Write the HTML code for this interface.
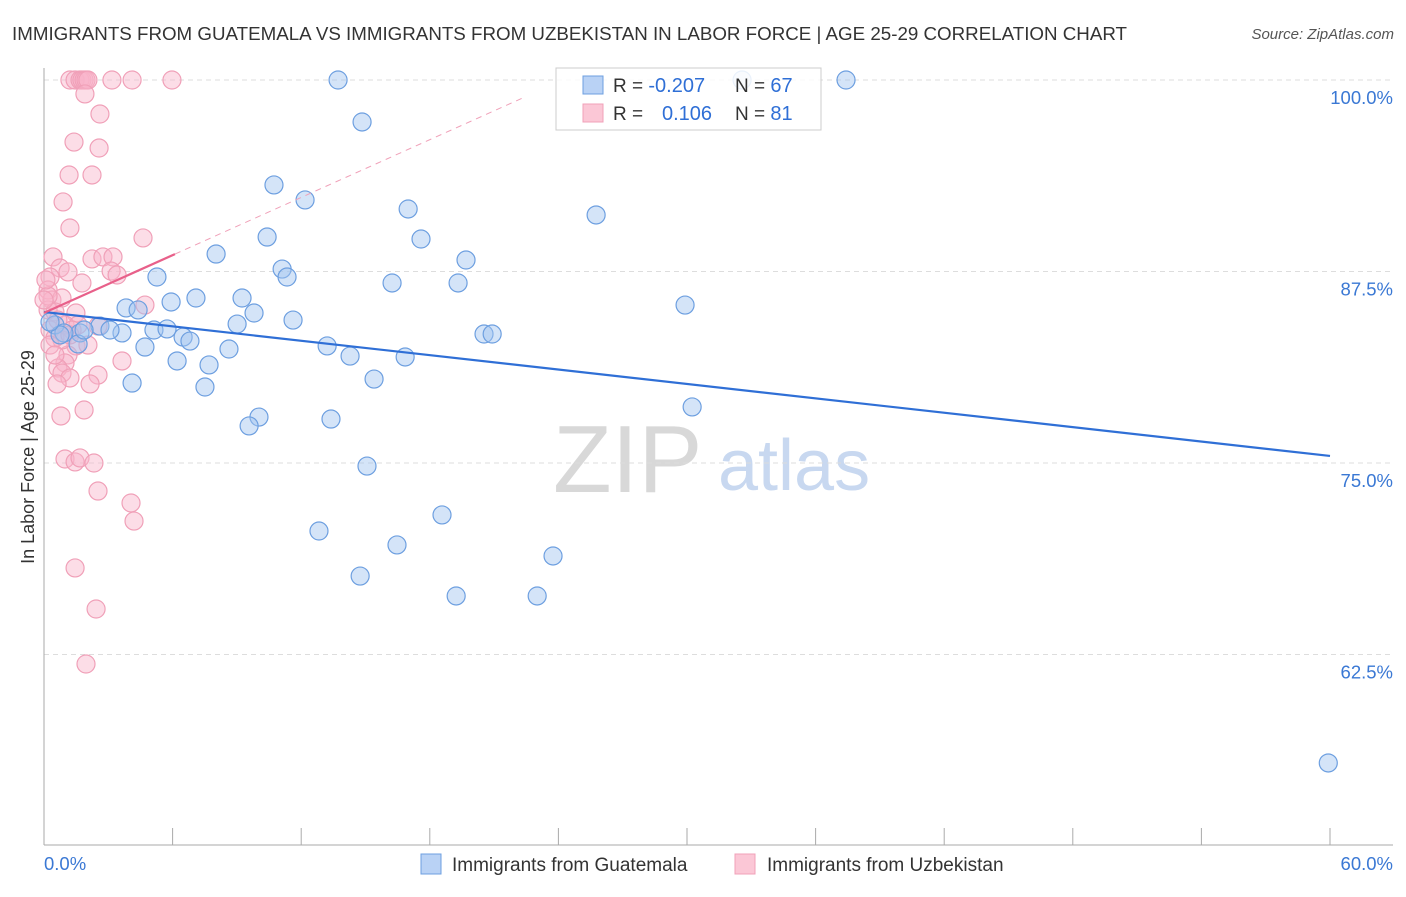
<!DOCTYPE html>
<html><head><meta charset="utf-8"><style>
body{margin:0;background:#fff;font-family:"Liberation Sans",sans-serif}
svg text{font-family:"Liberation Sans",sans-serif}
</style></head><body>
<svg id="chart" width="1406" height="892" xmlns="http://www.w3.org/2000/svg">
<text x="12" y="40" font-size="18.5" fill="#333" textLength="1115" lengthAdjust="spacingAndGlyphs">IMMIGRANTS FROM GUATEMALA VS IMMIGRANTS FROM UZBEKISTAN IN LABOR FORCE | AGE 25-29 CORRELATION CHART</text>
<text x="1394" y="39" font-size="15" fill="#555" font-style="italic" text-anchor="end">Source: ZipAtlas.com</text>
<g>
<text x="553" y="492" font-size="96" font-family="Liberation Serif" fill="#d8d8d8">ZIP</text>
<text x="718" y="490" font-size="72" fill="#c8d8f0">atlas</text>
</g>
<g id="grid"></g><g id="axes"></g><g id="pts"></g><g id="lines"></g>
<g>
<rect x="556" y="68" width="265" height="62" fill="rgba(255,255,255,0.85)" stroke="#ccc"/>
<rect x="583" y="76" width="20" height="18" fill="#b9d2f5" stroke="#6d9fe0"/>
<rect x="583" y="104" width="20" height="18" fill="#fbc7d6" stroke="#f0a0b8"/>
<text x="613" y="92" font-size="19" fill="#333">R = <tspan fill="#2f6fd6" font-size="20">-0.207</tspan></text>
<text x="735" y="92" font-size="19" fill="#333">N = <tspan fill="#2f6fd6" font-size="20">67</tspan></text>
<text x="613" y="120" font-size="19" fill="#333">R = <tspan fill="#2f6fd6" x="662" font-size="20">0.106</tspan></text>
<text x="735" y="120" font-size="19" fill="#333">N = <tspan fill="#2f6fd6" font-size="20">81</tspan></text>
</g>
<g>
<rect x="421" y="854" width="20" height="20" fill="#b9d2f5" stroke="#6d9fe0"/>
<text x="452" y="871" font-size="19" fill="#333">Immigrants from Guatemala</text>
<rect x="735" y="854" width="20" height="20" fill="#fbc7d6" stroke="#f0a0b8"/>
<text x="767" y="871" font-size="19" fill="#333">Immigrants from Uzbekistan</text>
</g>
<text transform="translate(34,457) rotate(-90)" font-size="18" fill="#333" text-anchor="middle">In Labor Force | Age 25-29</text>
</svg>
<script>
const yTicks=[100,87.5,75,62.5];
const yTickLabels=["100.0%","87.5%","75.0%","62.5%"];
const xEndLabels=["0.0%","60.0%"];
const blueX=[13.72,37.42,32.57,14.84,10.73,12.18,16.99,25.76,17.59,10.41,8.03,19.69,5.27,11.11,11.34,16.24,19.32,29.91,7.09,9.24,5.93,3.83,4.39,9.80,11.62,9.01,2.61,3.64,3.08,5.13,5.74,6.49,6.81,1.68,0.51,0.93,1.59,4.71,8.63,13.21,14.28,6.21,7.70,16.85,20.53,20.91,15.40,4.11,7.51,30.24,10.03,9.57,13.39,15.07,18.57,12.83,16.47,23.75,14.75,19.23,23.01,59.92,1.87,0.75,0.28];
const blueY=[100,100,100,97.26,93.15,92.17,91.58,91.19,89.62,89.75,88.64,88.25,87.14,87.66,87.14,86.75,86.75,85.31,85.77,85.77,85.51,85.12,84.99,84.79,84.33,84.07,83.94,83.49,83.68,83.68,83.75,83.22,82.96,83.49,84.01,83.49,82.77,82.57,82.44,82.64,81.98,81.66,81.40,81.92,83.42,83.42,80.48,80.22,79.96,78.66,78.00,77.42,77.87,74.80,71.61,70.56,69.65,68.93,67.62,66.32,66.32,55.42,83.68,83.36,84.20];
const pinkX=[1.21,1.45,1.68,1.77,1.87,1.96,2.05,3.17,4.11,5.97,1.91,2.61,1.40,2.57,1.17,2.24,0.89,1.21,4.62,0.42,2.24,2.75,3.22,3.13,3.41,0.75,1.12,1.77,0.28,0.19,0.37,4.71,0.84,0.19,0.51,1.49,0.98,1.59,0.28,0.51,1.31,1.49,1.12,2.52,0.98,3.64,0.65,0.84,2.52,1.21,2.15,0.61,1.87,0.79,0.98,1.45,1.68,2.33,2.52,4.06,4.20,1.45,2.43,1.96,0.19,0,0.09,0.65,0.84,0.28,1.21,2.05,0.51];
const pinkY=[100,100,100,100,100,100,100,100,100,100,99.09,97.78,95.95,95.56,93.80,93.80,92.04,90.34,89.69,88.45,88.32,88.45,88.45,87.53,87.27,87.73,87.47,86.75,87.14,86.29,85.64,85.31,85.77,84.99,84.86,84.79,84.01,84.01,83.68,83.16,83.68,82.64,82.05,83.94,81.53,81.66,81.20,80.87,80.74,80.55,80.16,80.16,78.46,78.07,75.26,75.07,75.33,75.00,73.17,72.39,71.21,68.15,65.47,61.88,85.90,85.64,86.95,84.33,83.03,82.70,83.36,82.70,82.05];
const blueTrend=[84.86,75.46]; // y at x=0 and x=60
const pinkTrend=[84.8,0.628]; // intercept, slope
const pinkSolidEnd=6.11, pinkDashEnd=22.4;
const NS="http://www.w3.org/2000/svg";
const X=v=>44+v/60*1286, Y=v=>80+(100-v)/12.5*191.5;
function mk(tag,attrs,parent){const e=document.createElementNS(NS,tag);for(const k in attrs)e.setAttribute(k,attrs[k]);document.getElementById(parent).appendChild(e);return e;}
yTicks.forEach((t,i)=>{
 const g=mk('line',{x1:44,x2:1393,y1:Y(t),y2:Y(t),stroke:'#ddd','stroke-dasharray':'5,4'},'grid');
 
 
 const l=mk('text',{x:1393,y:Y(t)+24,'font-size':18.5,fill:'#3a78d4','text-anchor':'end'},'axes');
 l.textContent=yTickLabels[i];
 
 
});
const ya=mk('line',{x1:44,x2:44,y1:68,y2:845,stroke:'#aaa'},'axes');


const xa=mk('line',{x1:44,x2:1393,y1:845,y2:845,stroke:'#aaa'},'axes');


for(let i=0;i<=10;i++){const t=mk('line',{x1:X(i*6),x2:X(i*6),y1:828,y2:845,stroke:'#aaa'},'axes');
 
 }
[[0,'start'],[60,'end']].forEach((p,i)=>{const t=mk('text',{x:i?1393:44,y:870,'font-size':18.5,fill:'#3a78d4','text-anchor':p[1]},'axes');t.textContent=xEndLabels[i];
 
 });
pinkX.forEach((v,i)=>{const c=mk('circle',{cx:X(v),cy:Y(pinkY[i]),r:9,fill:'rgba(248,180,202,0.45)',stroke:'#f0a0b8','stroke-width':1.2},'pts');
 
 });
blueX.forEach((v,i)=>{const c=mk('circle',{cx:X(v),cy:Y(blueY[i]),r:9,fill:'rgba(160,195,240,0.45)',stroke:'#6d9fe0','stroke-width':1.2},'pts');
 
 });
const bl=mk('line',{x1:X(0),y1:Y(blueTrend[0]),x2:X(60),y2:Y(blueTrend[1]),stroke:'#2f6fd6','stroke-width':2.2},'lines');


const pd=mk('line',{x1:X(pinkSolidEnd),y1:Y(pinkTrend[0]+pinkTrend[1]*pinkSolidEnd),x2:X(pinkDashEnd),y2:Y(pinkTrend[0]+pinkTrend[1]*pinkDashEnd),stroke:'#f0a0b8','stroke-width':1,'stroke-dasharray':'6,5'},'lines');


const pl=mk('line',{x1:X(0),y1:Y(pinkTrend[0]),x2:X(pinkSolidEnd),y2:Y(pinkTrend[0]+pinkTrend[1]*pinkSolidEnd),stroke:'#e8608a','stroke-width':2.2},'lines');


</script>
</body></html>
